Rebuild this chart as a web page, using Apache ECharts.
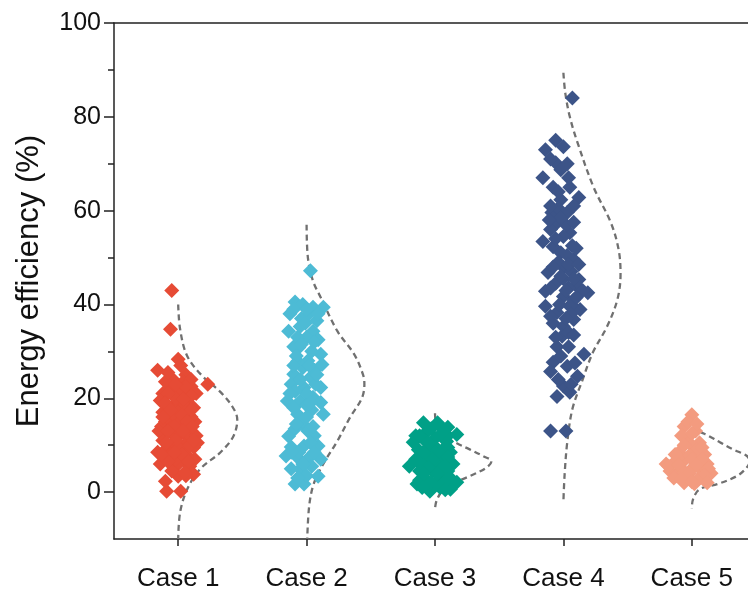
<!DOCTYPE html>
<html>
<head>
<meta charset="utf-8">
<script src="https://cdn.jsdelivr.net/npm/echarts@6/dist/echarts.min.js"></script>
<style>html,body{margin:0;padding:0;background:#fff}#c{width:748px;height:596px}</style>
</head>
<body>
<div id="c"></div>
<script>
const categories = ['Case 1', 'Case 2', 'Case 3', 'Case 4', 'Case 5'];
const yTicks = [0, 20, 40, 60, 80, 100];
const yMinorTicks = [10, 30, 50, 70, 90];
const colors = ['#E64B35', '#4DBBD5', '#00A087', '#3C5488', '#F39B7F'];

// points: [jitter offset from category centre (category units), efficiency %]
const case1 = [[-0.05,43],[-0.06,34.7],[0,28.3],[-0.16,26],[0.23,23],[0.02,27],[0.06,25],[-0.04,24],[-0.1,23.5],[0.1,22.5],[0.14,21],[-0.12,21],[-0.05,22],[0.03,21.5],[0.08,20],[-0.14,19.5],[-0.02,19],[0.05,18.5],[0.12,18],[-0.08,18],[-0.12,17],[0.0,17],[0.08,16.5],[-0.05,16],[0.04,15.5],[-0.1,15],[0.13,15],[0.0,14.5],[-0.13,14],[0.06,14],[-0.06,13.5],[0.1,13],[0.02,12.5],[-0.1,12.5],[-0.03,12],[0.08,11.5],[0.14,12],[-0.12,11],[0.0,10.5],[0.05,10],[-0.06,10],[0.12,9.5],[-0.1,9],[0.02,9],[-0.16,8.5],[-0.06,8],[0.06,8],[0.13,7],[-0.14,6],[0.0,6],[0.09,5.5],[0.12,3.8],[0.0,3.4],[-0.05,4.5],[-0.1,2.3],[-0.09,0.2],[0.02,0.2],[0.04,23.5],[-0.08,25.5],[0.1,24],[-0.02,20],[0.1,16],[-0.15,13],[0.15,10.5],[0.06,3.5],[-0.02,7],
  [-0.08,21],[0.06,22.5],[-0.02,23],[0.1,20.5],[-0.1,19],[0.04,19.8],[-0.06,17.5],[0.1,17.5],[0.03,16.5],[-0.12,16],[0.07,15],[-0.03,14],[0.11,14],[-0.08,13],[0.04,13],[-0.02,11],[0.09,10],[-0.09,10.5],[0.03,8],[-0.03,8.5],[0.08,6.5],[-0.08,6.5],[0.05,4.2],[-0.13,8],[0.12,11]];
const case2 = [[0.03,47.2],[-0.09,40.5],[-0.03,40],[0.05,39.4],[0.13,39.4],[-0.14,34.3],[-0.05,35.3],[0.05,34.3],[0.09,32.5],[0.11,29.4],[0.12,27.2],[-0.06,30.8],[-0.07,27.9],[0.01,28],[-0.1,25.1],[0.03,24.5],[0.11,22.3],[-0.02,22.3],[-0.15,19.4],[-0.05,19.4],[0.05,20.2],[0.11,19.1],[0.13,16.6],[-0.07,16.6],[-0.03,14.5],[0.01,13],[-0.14,11.9],[-0.12,9.6],[-0.02,9.8],[-0.16,7.7],[0.09,9.8],[0.11,7],[-0.07,7.4],[0.02,7.4],[-0.05,4.9],[0.09,3.4],[-0.02,1.7],[-0.09,1.7],[-0.04,37],[0.0,33],[-0.1,31],[0.04,30],[-0.08,29],[0.06,26],[-0.03,26.5],[-0.12,23],[0.0,21],[0.07,23],[-0.09,21.5],[0.04,17.5],[-0.1,18],[0.0,18.5],[-0.05,15],[0.06,12],[-0.09,13.5],[0.03,10.5],[-0.06,8.5],[0.04,5.5],[-0.12,5],[-0.01,36],[0.08,36.5],[-0.13,38],[0.02,38],
  [-0.1,39],[0.0,39],[0.09,38],[-0.07,33],[0.06,32],[-0.04,31.5],[0.02,27],[-0.1,27],[0.08,25],[-0.05,24],[-0.13,21],[0.03,19],[-0.08,14.5],[0.0,16],[0.05,14],[-0.12,8.5],[0.06,8.5],[-0.03,6],[0.0,3.5],[-0.07,3]];
const case3 = [[-0.09,14.8],[0.02,14.8],[0.17,12.3],[-0.06,13],[0.06,13.5],[-0.17,10.6],[-0.08,11],[0.0,11.5],[0.09,10.8],[-0.13,9],[-0.03,9.5],[0.06,9],[0.12,8.5],[-0.2,5.5],[-0.1,7.5],[0.0,7.8],[0.08,7],[-0.15,7],[0.14,6],[-0.06,6.2],[0.03,6],[-0.12,4.5],[0.1,4.5],[-0.02,4.5],[0.06,3.5],[-0.14,1.7],[0.17,2.1],[0.12,0.6],[-0.04,0.2],[-0.08,3],[0.02,2.5],[-0.1,6],[0.05,5],[-0.01,10],[0.1,12],[-0.15,12],[0.0,8.5],[-0.06,8.2],[0.07,2],[-0.12,2.5],
  [-0.03,13.5],[0.1,13.8],[-0.12,12],[0.04,12.2],[-0.05,10.5],[0.1,9.5],[-0.09,8.5],[0.04,8.3],[-0.02,7],[0.1,7.5],[-0.12,6.2],[0.08,5.5],[-0.05,5.2],[0.02,4],[-0.09,4],[0.12,3],[-0.03,2],[0.04,1],[-0.1,1],[0.08,0.5]];
const case4 = [[0.07,84],[-0.06,75],[0.0,73.6],[-0.14,73],[-0.06,70.2],[-0.02,68.7],[-0.16,67],[-0.08,65],[0.05,65],[0.12,62.8],[-0.02,62.3],[-0.09,59.6],[0.03,59.6],[-0.05,57.4],[0.05,55.3],[-0.16,53.4],[-0.08,52.3],[-0.02,51],[0.08,49.6],[-0.12,46.8],[0.0,48],[0.06,47],[0.12,45.3],[0.19,42.5],[-0.14,42.8],[-0.14,39.6],[0.0,41.7],[0.05,39.6],[-0.05,38.3],[0.13,38.9],[0.0,35.3],[0.08,36.8],[-0.01,33.2],[-0.05,31],[0.04,31],[0.16,29.4],[-0.08,27.7],[-0.1,25.7],[0.03,26.8],[0.11,24.7],[0.0,22.6],[-0.05,20.4],[0.05,21.3],[-0.1,13],[0.02,13],[-0.04,60.5],[0.02,57],[-0.1,56],[0.07,52.5],[-0.04,49],[0.1,44],[-0.06,44.5],[0.04,43.5],[0.08,41],[-0.08,36],[0.04,34],[-0.02,29],[0.09,27.5],[-0.04,24],[0.06,23],[0.0,45.5],[0.03,50.5],[-0.1,61],[0.03,70],[0.06,40],
  [-0.1,71],[0.04,67],[-0.04,64],[0.08,61],[-0.02,58.5],[0.08,57.5],[-0.11,58],[0.0,54.5],[-0.06,54],[0.1,52],[0.04,48.5],[-0.08,48],[0.12,48.5],[-0.02,46],[0.08,45.5],[0.15,43],[-0.1,43.5],[0.02,43],[0.1,41.5],[-0.03,40],[0.06,38],[-0.1,37.5],[0.02,37],[0.08,33.5],[-0.06,33]];
const case5 = [[0.0,16.5],[-0.06,14],[0.03,13],[0.06,10.5],[-0.04,11],[-0.08,12],[0.0,10],[-0.1,8.5],[0.02,8.5],[0.1,8],[-0.2,6],[-0.13,6.5],[-0.05,7],[0.05,6.5],[0.12,6],[-0.17,4.5],[-0.08,5],[0.0,5],[0.08,4.5],[0.15,4],[-0.12,3.5],[-0.03,3],[0.06,3],[-0.06,2],[0.02,1.8],[0.1,2.5],[-0.1,7.5],[0.04,9],[-0.02,7.8],[0.09,5.5],
  [-0.03,15],[0.04,14.5],[0.0,12.5],[-0.06,10],[0.08,9.5],[-0.13,8],[0.0,7],[0.08,7],[-0.18,5.5],[-0.1,5.8],[0.03,5.8],[0.13,5],[-0.06,4],[0.1,3.5],[-0.02,4],[-0.14,3],[0.04,2.5],[-0.08,2.8],[0.12,2],[0.0,2.2]];

// distribution curves: [offset to the right of category centre (category units), efficiency %]
const curve1 = [[0,40],[0.015,34.7],[0.07,29],[0.19,24.7],[0.33,21.3],[0.42,18.3],[0.46,15.5],[0.43,11.9],[0.33,8.5],[0.17,4.9],[0.07,0.6],[0.015,-4.3],[0,-10]];
const curve2 = [[0,57],[0.01,50],[0.05,45],[0.11,41.5],[0.24,34.3],[0.37,29.4],[0.44,25],[0.45,23],[0.43,20],[0.34,16],[0.24,10.9],[0.13,6],[0.055,1.7],[0.02,-3],[0.005,-10]];
const curve3 = [[0,16.8],[0.005,15],[0.02,13.4],[0.07,11.9],[0.17,10.4],[0.27,9.1],[0.38,7.6],[0.44,6.6],[0.4,5.2],[0.27,3.4],[0.14,1.8],[0.05,0],[0.01,-2],[0,-3.6]];
const curve4 = [[0,89.4],[0.015,85],[0.05,80],[0.11,74.5],[0.235,65],[0.37,57.4],[0.43,51.7],[0.445,46.5],[0.42,41],[0.34,35.3],[0.23,29.8],[0.15,24],[0.07,17.7],[0.03,10.6],[0.01,4],[0,-2]];
const curve5 = [[0,16.6],[0.04,13.4],[0.13,12],[0.22,10.6],[0.33,9],[0.43,7.7],[0.45,6.5],[0.42,5],[0.35,3.4],[0.2,1.7],[0.06,0.6],[0.01,-1.5],[0,-3.6]];

const points = [case1, case2, case3, case4, case5];
const curves = [curve1, curve2, curve3, curve4, curve5];

const FONT = 'Liberation Sans, Arial, sans-serif';
const AX = '#222';

const series = [];
curves.forEach((c, i) => {
  series.push({
    type: 'line', z: 1, smooth: 0.35, symbol: 'none', silent: true,
    data: c.map(p => [i + 1 + p[0], p[1]]),
    lineStyle: { color: '#707070', width: 2.3, type: [6, 4] }
  });
});
points.forEach((pts, i) => {
  series.push({
    type: 'scatter', z: 3, symbol: 'diamond', symbolSize: 15,
    data: pts.map(p => [i + 1 + p[0], p[1]]),
    itemStyle: { color: colors[i], opacity: 1 }
  });
});

const chart = echarts.init(document.getElementById('c'), null, { renderer: 'canvas' });
chart.setOption({
  animation: false,
  backgroundColor: '#fff',
  grid: { left: 114, top: 23, height: 516, width: 642, outerBoundsMode: 'none', containLabel: false },
  xAxis: [{
    type: 'value', min: 0.5, max: 5.5, position: 'bottom',
    splitLine: { show: false },
    axisLine: { show: true, onZero: false, lineStyle: { color: AX, width: 1.5 } },
    axisTick: { show: true, length: 7, lineStyle: { color: AX, width: 1.5 }, customValues: [1, 2, 3, 4, 5] },
    axisLabel: { customValues: [1, 2, 3, 4, 5], formatter: v => categories[Math.round(v) - 1], fontFamily: FONT, fontSize: 26, color: '#111', margin: 27 }
  }, {
    type: 'value', min: 0.5, max: 5.5, position: 'top',
    splitLine: { show: false },
    axisLine: { show: true, onZero: false, lineStyle: { color: AX, width: 1.5 } },
    axisTick: { show: false }, axisLabel: { show: false }
  }],
  yAxis: [{
    type: 'value', min: -10, max: 100,
    splitLine: { show: false },
    axisLine: { show: true, onZero: false, lineStyle: { color: AX, width: 1.5 } },
    axisTick: { show: true, length: 10, lineStyle: { color: AX, width: 1.5 }, customValues: yTicks },
    axisLabel: { customValues: yTicks, fontFamily: FONT, fontSize: 25, color: '#111', margin: 13 },
    name: 'Energy efficiency (%)', nameLocation: 'middle', nameGap: 69,
    nameTextStyle: { fontFamily: FONT, fontSize: 31, color: '#111' }
  }, {
    type: 'value', min: -10, max: 100, position: 'left',
    splitLine: { show: false },
    axisLine: { show: false, onZero: false },
    axisTick: { show: true, length: 6, lineStyle: { color: AX, width: 1.5 }, customValues: yMinorTicks },
    axisLabel: { show: false }
  }],
  series: series
});
</script>
</body>
</html>
